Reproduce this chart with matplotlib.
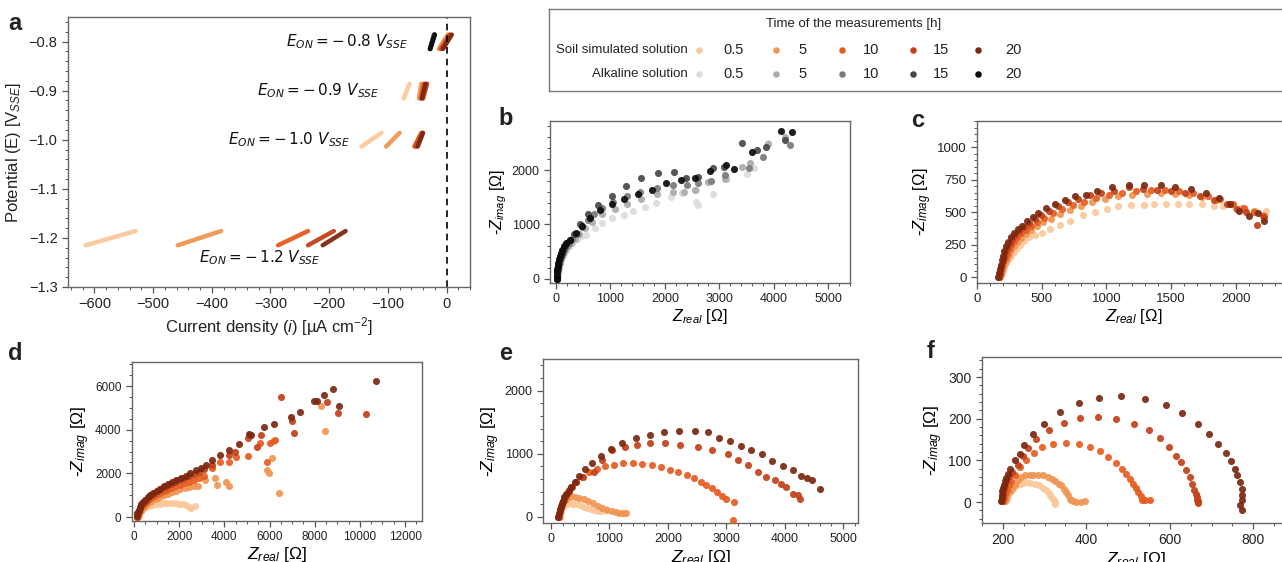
import matplotlib
matplotlib.use('Agg')
import matplotlib.pyplot as plt
from matplotlib.ticker import AutoMinorLocator, MultipleLocator

plt.rcParams['font.family'] = ['Liberation Sans', 'DejaVu Sans']
plt.rcParams['mathtext.fontset'] = 'custom'
plt.rcParams['mathtext.rm'] = 'Liberation Sans'
plt.rcParams['mathtext.it'] = 'Liberation Sans:italic'
plt.rcParams['mathtext.bf'] = 'Liberation Sans:bold'

# ---- shared ----
times = ['0.5', '5', '10', '15', '20']
soil_colors = ['#fbc89a', '#f09552', '#e65b1f', '#c2401a', '#7b2710']
alk_colors = ['#dcdcdc', '#ababab', '#7a7a7a', '#474747', '#0a0a0a']

# ---- panel a: LSV segments, current at low / high end of each potential window ----
a_E_on = [-1.2, -1.0, -0.9, -0.8]
a_E_lo = [-1.215, -1.014, -0.916, -0.815]
a_E_hi = [-1.186, -0.986, -0.886, -0.786]
a_soil_i_lo = [[-615, -458, -287, -236, -211],
               [-145, -103, -55, -52, -49],
               [-73, -47, -44, -40, -42],
               [-12, -13, -10, -8, -6]]
a_soil_i_hi = [[-530, -384, -236, -192, -172],
               [-111, -80, -43, -41, -40],
               [-63, -43, -39, -33, -36],
               [3, 2, 5, 7, 9]]
a_alk_i_lo = [-28, -28, -28, -28, -28]
a_alk_i_hi = [-21, -21, -21, -21, -20]

# ---- panel b: alkaline ----
b_x_05 = [25, 30, 38, 48, 60, 75, 95, 120, 150, 190, 240, 300, 380, 460, 551, 717, 846, 1036, 1245, 1415,
          1630, 1844, 2107, 2322, 2567, 2580, 2600, 2891, 3137, 3505, 3640, 3903]
b_y_05 = [0, 60, 120, 180, 240, 300, 360, 420, 480, 540, 600, 660, 730, 790, 807, 930, 1021, 1113, 1174, 1253,
          1315, 1401, 1511, 1572, 1633, 1420, 1360, 1554, 1835, 1927, 2040, 2490]
b_x_5 = [20, 26, 33, 42, 53, 67, 85, 107, 135, 170, 215, 270, 340, 430, 540, 660, 840, 1080, 1300, 1560,
         1860, 2140, 2360, 2560, 2800, 3100, 3420, 3560, 3900, 4200]
b_y_5 = [0, 60, 120, 180, 240, 300, 360, 420, 480, 540, 600, 660, 740, 830, 930, 1050, 1200, 1290, 1380, 1460,
         1560, 1600, 1590, 1640, 1780, 1830, 2050, 2120, 2480, 2600]
b_x_10 = [15, 20, 27, 35, 45, 58, 75, 95, 120, 150, 190, 240, 300, 380, 470, 580, 700, 850, 1050, 1300,
          1550, 1850, 2150, 2400, 2600, 2850, 3100, 3550, 3800, 4300]
b_y_10 = [0, 60, 120, 180, 240, 300, 360, 420, 480, 540, 600, 660, 730, 830, 960, 1080, 1200, 1300, 1420, 1520,
          1600, 1670, 1720, 1730, 1760, 1800, 1900, 2040, 2230, 2460]
b_x_15 = [12, 17, 23, 30, 40, 52, 67, 85, 108, 135, 170, 210, 260, 330, 440, 590, 780, 1030, 1280, 1570,
          1870, 2160, 2390, 2600, 2880, 3080, 3420, 3700, 3850, 4200]
b_y_15 = [0, 60, 120, 180, 240, 300, 360, 420, 480, 540, 600, 660, 720, 830, 1010, 1200, 1350, 1530, 1700, 1850,
          1950, 1960, 1860, 1870, 2030, 2050, 2490, 2370, 2420, 2560]
b_x_20 = [10, 14, 19, 25, 33, 43, 56, 72, 92, 118, 150, 190, 257, 368, 484, 626, 810, 1025, 1251, 1503,
          1760, 2024, 2294, 2545, 2834, 3122, 3262, 3600, 4134, 4336]
b_y_20 = [0, 60, 120, 180, 240, 300, 360, 420, 480, 540, 600, 660, 716, 838, 973, 1113, 1266, 1376, 1474, 1560,
          1633, 1756, 1817, 1847, 1988, 2092, 2013, 2336, 2716, 2691]

# ---- panel c: soil ----
c_x_05 = [180, 190, 200, 212, 226, 242, 260, 282, 306, 334, 366, 402, 445, 500, 564, 641, 718, 818, 911, 1001,
          1090, 1190, 1290, 1370, 1460, 1550, 1640, 1740, 1830, 1900, 1990, 2070, 2150, 2230]
c_y_05 = [0, 25, 52, 80, 108, 136, 165, 195, 222, 250, 278, 305, 320, 336, 367, 400, 433, 477, 497, 521,
          545, 555, 555, 565, 565, 560, 560, 560, 545, 545, 530, 520, 510, 510]
c_x_5 = [175, 183, 192, 202, 214, 228, 244, 262, 284, 310, 340, 375, 415, 460, 512, 572, 640, 715, 800, 890,
         990, 1090, 1200, 1310, 1420, 1530, 1640, 1740, 1850, 1950, 2050, 2140, 2220]
c_y_5 = [0, 22, 50, 80, 110, 140, 172, 205, 238, 270, 300, 330, 360, 390, 420, 450, 485, 515, 545, 575,
         600, 620, 630, 640, 645, 640, 630, 615, 590, 560, 530, 510, 480]
c_x_10 = [170, 178, 185, 193, 203, 215, 228, 244, 262, 284, 310, 340, 375, 415, 465, 520, 585, 660, 745, 830,
          920, 1020, 1120, 1230, 1340, 1450, 1560, 1670, 1780, 1880, 1980, 2060, 2140, 2210]
c_y_10 = [0, 25, 55, 85, 115, 150, 180, 212, 245, 275, 305, 335, 365, 395, 425, 455, 490, 520, 555, 580,
          610, 630, 650, 665, 670, 670, 665, 650, 625, 600, 565, 530, 500, 470]
c_x_15 = [168, 175, 180, 188, 197, 208, 220, 235, 252, 272, 297, 327, 360, 400, 445, 495, 555, 625, 700, 780,
          870, 960, 1060, 1170, 1280, 1390, 1500, 1610, 1720, 1830, 1930, 2010, 2080, 2160, 2220]
c_y_15 = [0, 25, 55, 88, 122, 155, 190, 225, 260, 292, 325, 355, 385, 415, 445, 475, 510, 545, 575, 600,
          630, 650, 665, 690, 680, 670, 660, 650, 620, 590, 560, 520, 500, 400, 460]
c_x_20 = [165, 170, 175, 182, 190, 200, 212, 225, 240, 260, 285, 315, 345, 385, 430, 470, 530, 600, 680, 760,
          840, 930, 1040, 1170, 1290, 1420, 1530, 1650, 1770, 1870, 1950, 2020, 2100, 2170, 2220]
c_y_20 = [0, 30, 60, 95, 130, 165, 200, 235, 270, 305, 340, 370, 395, 430, 465, 490, 530, 560, 590, 620,
          630, 665, 690, 705, 710, 705, 690, 675, 650, 610, 560, 510, 470, 490, 430]

# ---- panel d ----
d_x_05 = [150, 180, 220, 270, 330, 400, 480, 570, 670, 780, 900, 1030, 1170, 1320, 1480, 1650, 1820, 1990, 2150, 2300,
          2420, 2530, 2700]
d_y_05 = [0, 100, 190, 270, 340, 400, 450, 490, 520, 550, 580, 600, 620, 635, 640, 640, 635, 620, 590, 540,
          470, 420, 515]
d_x_5 = [170, 200, 240, 290, 350, 420, 500, 590, 690, 800, 920, 1050, 1190, 1340, 1500, 1670, 1850, 2050, 2250, 2450,
         2650, 2850, 3150, 3600, 3670, 4080, 4190, 5900, 5970, 6120, 6420, 6160, 8300, 8450]
d_y_5 = [0, 110, 210, 300, 390, 470, 550, 620, 690, 760, 830, 890, 950, 1010, 1070, 1130, 1200, 1280, 1350, 1390,
         1400, 1400, 1700, 1780, 1470, 1620, 1430, 2150, 2000, 2690, 1090, 3490, 5100, 3930]
d_x_10 = [140, 175, 215, 265, 325, 395, 475, 565, 665, 775, 895, 1025, 1165, 1315, 1475, 1645, 1825, 2015, 2215, 2425,
          2645, 2875, 3115, 3450, 3820, 4190, 4500, 5030, 5570, 5900, 6040, 6250]
d_y_10 = [0, 120, 240, 350, 460, 560, 650, 740, 820, 900, 980, 1050, 1120, 1190, 1260, 1330, 1400, 1470, 1540, 1610,
          1690, 1770, 1860, 2250, 2540, 2540, 2760, 2800, 3400, 2540, 3400, 3520]
d_x_15 = [125, 160, 205, 260, 320, 390, 470, 560, 660, 770, 890, 1020, 1160, 1310, 1470, 1640, 1820, 2010, 2210, 2420,
          2640, 2870, 3110, 3450, 4200, 4450, 5030, 5450, 5600, 6490, 7010, 7100, 8540, 9010, 10280]
d_y_15 = [10, 170, 300, 420, 540, 650, 750, 850, 940, 1030, 1120, 1200, 1280, 1360, 1440, 1520, 1600, 1690, 1780, 1870,
          1970, 2070, 2180, 2400, 2840, 2960, 3600, 3220, 3760, 5500, 4390, 3860, 5270, 4770, 4740]
d_x_20 = [110, 150, 200, 260, 330, 410, 500, 600, 720, 850, 1000, 1150, 1320, 1500, 1680, 1870, 2070, 2280, 2500, 2730,
          2960, 3200, 3450, 3820, 4220, 4630, 5080, 5200, 5750, 6190, 6960, 7350, 7950, 8100, 8390, 8800, 9090, 10700]
d_y_20 = [30, 200, 330, 460, 580, 700, 800, 900, 1010, 1110, 1200, 1300, 1400, 1500, 1590, 1680, 1790, 1900, 2020, 2140,
          2250, 2370, 2600, 2840, 3070, 3340, 3800, 3780, 4130, 4280, 4590, 4810, 5320, 5300, 5570, 5850, 5080, 6220]

# ---- panel e ----
e_x_05 = [150, 170, 195, 230, 275, 325, 380, 440, 500, 560, 620, 680, 740, 800, 850, 900, 940]
e_y_05 = [0, 80, 140, 180, 205, 215, 212, 200, 185, 165, 145, 125, 110, 100, 95, 105, 120]
e_x_5 = [140, 160, 185, 215, 255, 300, 350, 410, 480, 560, 640, 720, 800, 880, 960, 1040, 1110, 1170, 1230, 1280]
e_y_5 = [0, 110, 190, 250, 290, 315, 325, 320, 305, 280, 250, 215, 180, 145, 115, 90, 75, 65, 60, 60]
e_x_10 = [130, 150, 175, 205, 240, 285, 340, 420, 530, 650, 780, 920, 1080, 1240, 1400, 1560, 1720, 1880, 2040, 2180,
          2320, 2450, 2560, 2660, 2750, 2840, 2920, 3000, 3140, 3120]
e_y_10 = [0, 80, 160, 240, 320, 400, 480, 560, 640, 710, 760, 800, 830, 850, 850, 840, 820, 790, 750, 710,
          660, 610, 560, 510, 460, 400, 340, 280, 240, -40]
e_x_15 = [125, 140, 155, 172, 192, 215, 242, 275, 315, 365, 430, 548, 730, 880, 1044, 1261, 1478, 1700, 1945, 2202,
          2516, 2761, 3029, 3200, 3372, 3543, 3686, 3828, 3931, 4028, 4142, 4227, 4256]
e_y_15 = [0, 60, 120, 170, 220, 270, 320, 370, 420, 480, 560, 637, 705, 900, 1061, 1114, 1141, 1167, 1167, 1141,
          1114, 1061, 997, 902, 822, 716, 637, 584, 530, 467, 371, 345, 292]
e_x_20 = [120, 135, 150, 165, 185, 205, 230, 262, 300, 348, 410, 479, 576, 707, 850, 1021, 1215, 1449, 1689, 1934,
          2191, 2459, 2680, 2880, 3070, 3250, 3430, 3610, 3790, 3970, 4150, 4280, 4380, 4470, 4600]
e_y_20 = [0, 50, 110, 160, 210, 260, 310, 360, 410, 470, 560, 652, 753, 849, 960, 1071, 1178, 1247, 1300, 1342,
          1353, 1353, 1337, 1257, 1204, 1125, 1061, 997, 891, 812, 743, 652, 620, 584, 440]

# ---- panel f ----
f_x_05 = [206, 209, 213, 218, 224, 232, 240, 248, 256, 266, 276, 286, 296, 304, 310, 314, 318, 322, 324, 326]
f_y_05 = [2, 8, 16, 24, 32, 40, 44, 46, 48, 46, 44, 40, 34, 28, 22, 16, 10, 4, 0, -4]
f_x_5 = [204, 207, 211, 216, 222, 228, 236, 244, 254, 264, 272, 284, 296, 308, 318, 326, 334, 340, 346, 352,
         356, 360, 364, 368, 376, 388, 396]
f_y_5 = [2, 10, 18, 26, 34, 42, 52, 60, 64, 66, 66, 66, 64, 60, 56, 50, 44, 40, 32, 24,
         16, 8, 4, 2, 0, 0, 2]
f_x_10 = [200, 202, 205, 209, 214, 220, 230, 240, 256, 274, 294, 320, 352, 382, 408, 432, 452, 472, 486, 496,
          505, 512, 518, 524, 530, 534, 540, 552]
f_y_10 = [2, 10, 20, 30, 40, 50, 66, 84, 100, 118, 132, 140, 142, 140, 132, 122, 108, 94, 80, 68,
          56, 44, 34, 24, 14, 6, 4, 4]
f_x_15 = [198, 199, 201, 203, 206, 210, 215, 222, 236, 248, 260, 280, 310, 346, 386, 428, 472, 514, 550, 576,
          598, 616, 628, 640, 648, 654, 658, 662, 664, 666, 668, 668]
f_y_15 = [2, 12, 22, 32, 42, 52, 62, 72, 88, 110, 130, 152, 174, 190, 202, 204, 200, 188, 172, 154,
          132, 110, 96, 76, 60, 44, 30, 20, 12, 6, 2, -2]
f_x_20 = [196, 197, 198, 199, 201, 203, 205, 208, 212, 218, 228, 240, 250, 272, 298, 338, 382, 430, 482, 540,
          590, 630, 668, 694, 716, 734, 746, 756, 762, 768, 772, 774, 772, 768, 772]
f_y_20 = [2, 10, 18, 26, 34, 42, 50, 58, 68, 80, 100, 116, 136, 164, 188, 216, 238, 250, 254, 248,
          234, 214, 188, 164, 140, 118, 98, 80, 64, 48, 32, 16, 4, -8, -18]

W, H = 1282, 562
fig = plt.figure(figsize=(W / 100, H / 100), dpi=100)


def box(l, t, r, b):
    return [l / W, 1 - b / H, (r - l) / W, (b - t) / H]


def style(ax, size):
    for s in ax.spines.values():
        s.set_color('#666666')
        s.set_linewidth(1.0)
    ax.tick_params(which='both', direction='out', color='#555555', labelcolor='#222222', labelsize=size)
    ax.tick_params(which='major', length=4, width=0.9)
    ax.tick_params(which='minor', length=2, width=0.7)
    ax.xaxis.set_minor_locator(AutoMinorLocator())
    ax.yaxis.set_minor_locator(AutoMinorLocator())


def nyquist(ax, xs, ys, colors):
    for x, y, c in zip(xs, ys, colors):
        ax.scatter(x, y, s=26, color=c, alpha=0.92, linewidths=0, zorder=3)


zlab_i = '-$Z_{imag}$ [Ω]'
zlab_r = '$Z_{real}$ [Ω]'

# ---- a ----
ax = fig.add_axes(box(68, 17, 470, 287))
style(ax, 10.5)
for k in range(len(a_E_on)):
    if a_E_on[k] == -0.8:
        for j in range(5):
            ax.plot([a_alk_i_lo[j], a_alk_i_hi[j]], [a_E_lo[k], a_E_hi[k]], color=alk_colors[j],
                    lw=3.4, solid_capstyle='round', alpha=0.9)
    for j in range(5):
        ax.plot([a_soil_i_lo[k][j], a_soil_i_hi[k][j]], [a_E_lo[k], a_E_hi[k]], color=soil_colors[j],
                lw=3.2, solid_capstyle='round', alpha=0.95)
ax.axvline(0, color='black', ls='--', lw=1.2, dashes=(4, 3))
ax.set_xlim(-645, 40)
ax.set_ylim(-1.3, -0.75)
ax.xaxis.set_major_locator(MultipleLocator(100))
ax.yaxis.set_major_locator(MultipleLocator(0.1))
ax.set_xlabel('Current density ($i$) [µA cm$^{-2}$]', fontsize=12, color='#222222', labelpad=3)
ax.set_ylabel('Potential (E) [V$_{SSE}$]', fontsize=12, color='#222222', labelpad=4)
ann = [(-66, -0.8, '0.8'), (-114, -0.9, '0.9'), (-164, -1.0, '1.0'), (-215, -1.24, '1.2')]
for x, y, v in ann:
    ax.text(x, y, r'$E_{ON} = -\,%s\ V_{SSE}$' % v, ha='right', va='center', fontsize=11,
            math_fontfamily='dejavusans', color='#111111')

# ---- legend box ----
lg = fig.add_axes(box(549, 9, 1300, 91))
lg.set_xlim(549, 1300)
lg.set_ylim(91, 9)
lg.set_xticks([])
lg.set_yticks([])
for s in lg.spines.values():
    s.set_color('#777777')
    s.set_linewidth(1.0)
lg.text(854, 24, 'Time of the measurements [h]', ha='center', va='center', fontsize=9.5, color='#222222')
mk_x = [699, 776, 842, 913, 978]
lb_x = [723, 798, 863, 933, 1005]
for row_y, name, cols in [(50, 'Soil simulated solution', soil_colors), (74, 'Alkaline solution', alk_colors)]:
    lg.text(688, row_y, name, ha='right', va='center', fontsize=9.5, color='#222222')
    for j in range(5):
        lg.scatter(mk_x[j], row_y, s=22, color=cols[j], linewidths=0)
        lg.text(lb_x[j], row_y, times[j], ha='left', va='center', fontsize=10.5, color='#222222')

# ---- b ----
ax = fig.add_axes(box(550, 121, 850, 283))
style(ax, 9)
nyquist(ax, [b_x_05, b_x_5, b_x_10, b_x_15, b_x_20], [b_y_05, b_y_5, b_y_10, b_y_15, b_y_20], alk_colors)
ax.set_xlim(-110, 5400)
ax.set_ylim(-75, 2900)
ax.xaxis.set_major_locator(MultipleLocator(1000))
ax.yaxis.set_major_locator(MultipleLocator(1000))
ax.set_xlabel(zlab_r, fontsize=11.5, labelpad=1)
ax.set_ylabel(zlab_i, fontsize=11.5, labelpad=2)

# ---- c ----
ax = fig.add_axes(box(977, 121, 1290, 283))
style(ax, 9.5)
nyquist(ax, [c_x_05, c_x_5, c_x_10, c_x_15, c_x_20], [c_y_05, c_y_5, c_y_10, c_y_15, c_y_20], soil_colors)
ax.set_xlim(0, 2417)
ax.set_ylim(-46, 1200)
ax.xaxis.set_major_locator(MultipleLocator(500))
ax.yaxis.set_major_locator(MultipleLocator(250))
ax.set_xlabel(zlab_r, fontsize=12, labelpad=1)
ax.set_ylabel(zlab_i, fontsize=12, labelpad=2)

# ---- d ----
ax = fig.add_axes(box(132, 362, 422, 521))
style(ax, 8.5)
nyquist(ax, [d_x_05, d_x_5, d_x_10, d_x_15, d_x_20], [d_y_05, d_y_5, d_y_10, d_y_15, d_y_20], soil_colors)
ax.set_xlim(-90, 12750)
ax.set_ylim(-180, 7100)
ax.xaxis.set_major_locator(MultipleLocator(2000))
ax.yaxis.set_major_locator(MultipleLocator(2000))
ax.set_xlabel(zlab_r, fontsize=12.5, labelpad=1)
ax.set_ylabel(zlab_i, fontsize=12.5, labelpad=2)

# ---- e ----
ax = fig.add_axes(box(543, 359, 858, 523))
style(ax, 9)
nyquist(ax, [e_x_05, e_x_5, e_x_10, e_x_15, e_x_20], [e_y_05, e_y_5, e_y_10, e_y_15, e_y_20], soil_colors)
ax.set_xlim(-137, 5254)
ax.set_ylim(-95, 2500)
ax.xaxis.set_major_locator(MultipleLocator(1000))
ax.yaxis.set_major_locator(MultipleLocator(1000))
ax.set_xlabel(zlab_r, fontsize=12.5, labelpad=2)
ax.set_ylabel(zlab_i, fontsize=12.5, labelpad=2)

# ---- f ----
ax = fig.add_axes(box(982, 357, 1290, 523))
style(ax, 10)
nyquist(ax, [f_x_05, f_x_5, f_x_10, f_x_15, f_x_20], [f_y_05, f_y_5, f_y_10, f_y_15, f_y_20], soil_colors)
ax.set_xlim(150, 888)
ax.set_ylim(-50, 348)
ax.xaxis.set_major_locator(MultipleLocator(200))
ax.yaxis.set_major_locator(MultipleLocator(100))
ax.set_xlabel(zlab_r, fontsize=12.5, labelpad=2)
ax.set_ylabel(zlab_i, fontsize=12.5, labelpad=2)

# panel letters
for x, y, t in [(8, 30, 'a'), (498, 125, 'b'), (911, 127, 'c'), (8, 360, 'd'), (499, 360, 'e'), (927, 358, 'f')]:
    fig.text(x / W, 1 - y / H, t, fontsize=17, fontweight='bold', color='#222222', va='baseline')

fig.savefig('out.png', dpi=100)
